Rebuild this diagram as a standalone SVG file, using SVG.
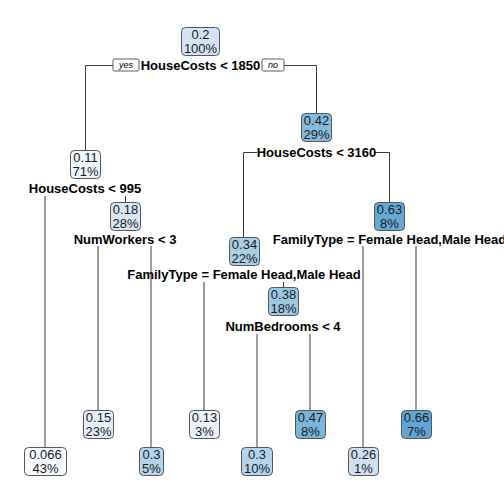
<svg xmlns="http://www.w3.org/2000/svg" width="504" height="504" viewBox="0 0 504 504">
<style>
.box{stroke:#555;stroke-width:1}
.nt{font-family:"Liberation Sans",Arial,sans-serif;font-size:13px;fill:#1a1a1a;text-anchor:middle}
.sp{font-family:"Liberation Sans",Arial,sans-serif;font-size:13px;font-weight:bold;fill:#000;text-anchor:middle}
.yn{font-family:"Liberation Sans",Arial,sans-serif;font-size:9px;font-style:italic;fill:#000;text-anchor:middle}
.ynb{fill:#fff;stroke:#333;stroke-width:0.8}
.ln{stroke:#3a3a3a;stroke-width:1;fill:none}
</style>
<rect width="504" height="504" fill="#fff"/>
<g id="connectors">
<path class="ln" d="M113 65.5H85.5V150"/>
<path class="ln" d="M284 65.5H316.5V113"/>
<path class="ln" d="M257 152.5H243.5V237"/>
<path class="ln" d="M375 152.5H389.5V202"/>
<path class="ln" d="M45 196V447"/>
<path class="ln" d="M125.5 196V202"/>
<path class="ln" d="M98 246V410"/>
<path class="ln" d="M151 246V447"/>
<path class="ln" d="M204 282V410"/>
<path class="ln" d="M283.5 282V287"/>
<path class="ln" d="M257 334V447"/>
<path class="ln" d="M310 334V410"/>
<path class="ln" d="M363 246V447"/>
<path class="ln" d="M416 246V410"/>
<rect class="ynb" x="113" y="59" width="26" height="12" rx="1.5"/>
<text class="yn" x="126" y="68">yes</text>
<rect class="ynb" x="262" y="59" width="22" height="12" rx="1.5"/>
<text class="yn" x="273" y="68">no</text>
</g>
<g id="node-root">
<rect class="box" x="181.5" y="27.5" width="38" height="28" rx="4" fill="#d4e4f4"/>
<text class="nt" x="200.5" y="39">0.2</text>
<text class="nt" x="200.5" y="53">100%</text>
<text class="sp" x="200.5" y="70">HouseCosts &lt; 1850</text>
</g>
<g id="node-042">
<rect class="box" x="301.5" y="113.5" width="30" height="28" rx="4" fill="#86bcde"/>
<text class="nt" x="316.5" y="125">0.42</text>
<text class="nt" x="316.5" y="139">29%</text>
<text class="sp" x="316.5" y="157">HouseCosts &lt; 3160</text>
</g>
<g id="node-011">
<rect class="box" x="70.5" y="150.5" width="30" height="28" rx="4" fill="#eef5fc"/>
<text class="nt" x="85.5" y="162">0.11</text>
<text class="nt" x="85.5" y="176">71%</text>
<text class="sp" x="85" y="193">HouseCosts &lt; 995</text>
</g>
<g id="node-018">
<rect class="box" x="110.5" y="202.5" width="30" height="28" rx="4" fill="#d9e7f5"/>
<text class="nt" x="125.5" y="214">0.18</text>
<text class="nt" x="125.5" y="228">28%</text>
<text class="sp" x="125" y="244">NumWorkers &lt; 3</text>
</g>
<g id="node-063">
<rect class="box" x="374.5" y="202.5" width="30" height="28" rx="4" fill="#64a9d7"/>
<text class="nt" x="389.5" y="214">0.63</text>
<text class="nt" x="389.5" y="228">8%</text>
<text class="sp" x="389.5" y="244">FamilyType = Female Head,Male Head</text>
</g>
<g id="node-034">
<rect class="box" x="229.5" y="237.5" width="30" height="28" rx="4" fill="#a9cee6"/>
<text class="nt" x="244.5" y="249">0.34</text>
<text class="nt" x="244.5" y="263">22%</text>
<text class="sp" x="244" y="279">FamilyType = Female Head,Male Head</text>
</g>
<g id="node-038">
<rect class="box" x="268.5" y="287.5" width="30" height="28" rx="4" fill="#9dc8e3"/>
<text class="nt" x="283.5" y="299">0.38</text>
<text class="nt" x="283.5" y="313">18%</text>
<text class="sp" x="283" y="331">NumBedrooms &lt; 4</text>
</g>
<g id="leaf-0066">
<rect class="box" x="24.5" y="447.5" width="42" height="28" rx="4" fill="#f7fbff"/>
<text class="nt" x="45.5" y="459">0.066</text>
<text class="nt" x="45.5" y="473">43%</text>
</g>
<g id="leaf-015">
<rect class="box" x="83.5" y="410.5" width="30" height="28" rx="4" fill="#e6f0fa"/>
<text class="nt" x="98.5" y="422">0.15</text>
<text class="nt" x="98.5" y="436">23%</text>
</g>
<g id="leaf-03a">
<rect class="box" x="139.5" y="447.5" width="24" height="28" rx="4" fill="#b5d4eb"/>
<text class="nt" x="151.5" y="459">0.3</text>
<text class="nt" x="151.5" y="473">5%</text>
</g>
<g id="leaf-013">
<rect class="box" x="189.5" y="410.5" width="30" height="28" rx="4" fill="#eaf2fb"/>
<text class="nt" x="204.5" y="422">0.13</text>
<text class="nt" x="204.5" y="436">3%</text>
</g>
<g id="leaf-03b">
<rect class="box" x="241.5" y="447.5" width="31" height="28" rx="4" fill="#b5d4eb"/>
<text class="nt" x="257" y="459">0.3</text>
<text class="nt" x="257" y="473">10%</text>
</g>
<g id="leaf-047">
<rect class="box" x="295.5" y="410.5" width="30" height="28" rx="4" fill="#7ab5db"/>
<text class="nt" x="310.5" y="422">0.47</text>
<text class="nt" x="310.5" y="436">8%</text>
</g>
<g id="leaf-026">
<rect class="box" x="348.5" y="447.5" width="30" height="28" rx="4" fill="#cfe1f2"/>
<text class="nt" x="363.5" y="459">0.26</text>
<text class="nt" x="363.5" y="473">1%</text>
</g>
<g id="leaf-066">
<rect class="box" x="401.5" y="410.5" width="30" height="28" rx="4" fill="#5fa6d6"/>
<text class="nt" x="416.5" y="422">0.66</text>
<text class="nt" x="416.5" y="436">7%</text>
</g>
</svg>
